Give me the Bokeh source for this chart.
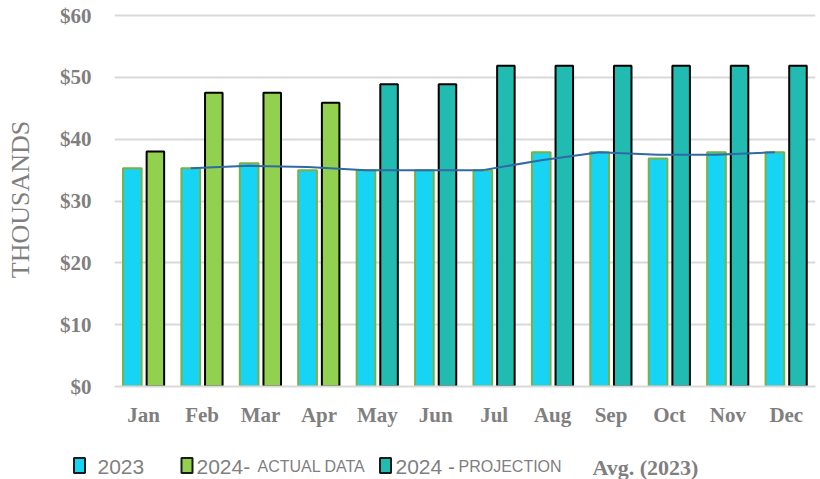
from bokeh.plotting import figure
from bokeh.models import ColumnDataSource, FactorRange, Range1d, NumeralTickFormatter, FixedTicker
from bokeh.transform import dodge
from bokeh.layouts import column
from bokeh.core.properties import value
from bokeh.embed import file_html
from bokeh.resources import INLINE

months = ["Jan", "Feb", "Mar", "Apr", "May", "Jun", "Jul", "Aug", "Sep", "Oct", "Nov", "Dec"]
vals_2023 = [35.3, 35.3, 36.1, 35.0, 35.0, 35.0, 35.0, 37.9, 37.9, 36.9, 37.9, 37.9]
actual_months = ["Jan", "Feb", "Mar", "Apr"]
actual_2024 = [38.0, 47.5, 47.5, 45.9]
proj_months = ["May", "Jun", "Jul", "Aug", "Sep", "Oct", "Nov", "Dec"]
proj_2024 = [48.9, 48.9, 51.9, 51.9, 51.9, 51.9, 51.9, 51.9]
avg_months = ["Feb", "Mar", "Apr", "May", "Jun", "Jul", "Aug", "Sep", "Oct", "Nov", "Dec"]
avg_2023 = [35.3, 35.7, 35.5, 35.0, 35.0, 35.0, 36.6, 37.9, 37.5, 37.5, 37.9]
y_ticks = [0, 10, 20, 30, 40, 50, 60]

GRAY = "#7f7f7f"
C2023 = "#17d4f5"
C2023_LINE = "#7db043"
CACT = "#92d050"
CPROJ = "#22bbb2"
CAVG = "#2f6aa3"

p = figure(x_range=FactorRange(*months), y_range=Range1d(0, 60.5),
           width=820, height=436, output_backend="svg", toolbar_location=None,
           min_border_left=114, min_border_right=5, min_border_top=12, min_border_bottom=50)
p.frame_align = False
p.outline_line_color = None
p.background_fill_color = "white"
p.border_fill_color = "white"

s23 = ColumnDataSource(dict(m=months, v=vals_2023))
sact = ColumnDataSource(dict(m=actual_months, v=actual_2024))
sproj = ColumnDataSource(dict(m=proj_months, v=proj_2024))
savg = ColumnDataSource(dict(m=avg_months, v=avg_2023))

p.vbar(x=dodge("m", -0.195, range=p.x_range), top="v", width=0.32, source=s23,
       fill_color=C2023, line_color=C2023_LINE, line_width=2)
p.vbar(x=dodge("m", 0.2, range=p.x_range), top="v", width=0.3, source=sact,
       fill_color=CACT, line_color="black", line_width=2)
p.vbar(x=dodge("m", 0.2, range=p.x_range), top="v", width=0.3, source=sproj,
       fill_color=CPROJ, line_color="black", line_width=2)
p.line(x=dodge("m", -0.195, range=p.x_range), y="v", source=savg,
       line_color=CAVG, line_width=2)

p.xgrid.grid_line_color = None
p.ygrid.grid_line_color = "#d9d9d9"
p.ygrid.grid_line_width = 2
p.yaxis.ticker = FixedTicker(ticks=y_ticks)
p.yaxis.formatter = NumeralTickFormatter(format="$0")
for ax in (p.xaxis[0], p.yaxis[0]):
    ax.major_tick_line_color = None
    ax.minor_tick_line_color = None
    ax.major_label_text_font = "Liberation Serif"
    ax.major_label_text_font_style = "bold"
    ax.major_label_text_font_size = "21px"
    ax.major_label_text_color = GRAY
p.yaxis.axis_line_color = None
p.xaxis.axis_line_color = "#d9d9d9"
p.xaxis.axis_line_width = 2
p.xaxis.major_label_standoff = 10
p.yaxis.major_label_standoff = 17
p.yaxis.axis_label = "THOUSANDS"
p.yaxis.axis_label_text_font = "Liberation Serif"
p.yaxis.axis_label_text_font_style = "normal"
p.yaxis.axis_label_text_font_size = "26px"
p.yaxis.axis_label_text_color = GRAY
p.yaxis.axis_label_standoff = 22

# legend strip
LH = 43
leg = figure(width=820, height=LH, x_range=Range1d(0, 820), y_range=Range1d(0, LH),
             output_backend="svg", toolbar_location=None,
             min_border=0, min_border_left=0, min_border_right=0, min_border_top=0, min_border_bottom=0)
leg.frame_align = False
leg.outline_line_color = None
leg.axis.visible = False
leg.grid.visible = False
leg.rect(x=[79, 186.5, 385], y=[14, 14, 14], width=11, height=15, fill_color=[C2023, CACT, CPROJ],
         line_color="#1a1a1a", line_width=2)
sans = value("Liberation Sans")
leg.text(x=[97, 196, 395], y=[13, 13, 13], text=["2023", "2024-", "2024 -"],
         text_font=sans, text_font_size="21px", text_color=GRAY,
         text_baseline="middle", text_align="left")
leg.text(x=[257, 458], y=[13, 13], text=["ACTUAL DATA", "PROJECTION"],
         text_font=sans, text_font_size="16px", text_color=GRAY,
         text_baseline="middle", text_align="left")
leg.text(x=[592], y=[12], text=["Avg. (2023)"], text_font=value("Liberation Serif"),
         text_font_style="bold", text_font_size="22px", text_color=GRAY,
         text_baseline="middle", text_align="left")

lay = column(p, leg, spacing=0)
open("out.html", "w").write(file_html(lay, INLINE))
